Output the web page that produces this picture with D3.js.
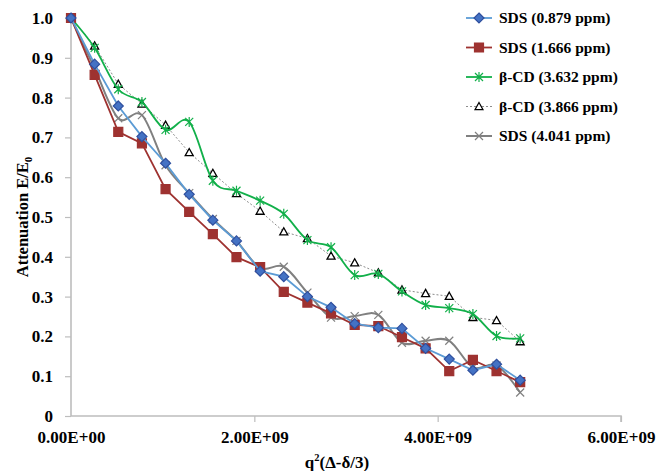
<!DOCTYPE html>
<html><head><meta charset="utf-8">
<script src="https://cdn.jsdelivr.net/npm/d3@7"></script>
<style>
html,body{margin:0;padding:0;background:#fff;}
svg text{font-family:"Liberation Serif","Times New Roman",serif !important;font-weight:bold;fill:#000;}
</style></head>
<body><svg id="c" width="657" height="471"></svg>
<script>
const xStep = 0.2579e9;
const xValues = [0,1,2,3,4,5,6,7,8,9,10,11,12,13,14,15,16,17,18,19].map(i => i * xStep);
const seriesNames = ["SDS (0.879 ppm)","SDS (1.666 ppm)","β-CD (3.632 ppm)","β-CD (3.866 ppm)","SDS (4.041 ppm)"];
const sds0879 = [1.0,0.884,0.779,0.702,0.635,0.557,0.492,0.440,0.364,0.350,0.300,0.273,0.232,0.222,0.220,0.170,0.143,0.115,0.130,0.090];
const sds1666 = [1.0,0.857,0.714,0.685,0.570,0.513,0.457,0.399,0.374,0.312,0.285,0.258,0.229,0.226,0.198,0.170,0.113,0.141,0.113,0.085];
const cd3632  = [1.0,0.925,0.821,0.789,0.719,0.739,0.591,0.566,0.541,0.508,0.442,0.424,0.354,0.357,0.313,0.279,0.271,0.256,0.201,0.195];
const cd3866  = [1.0,0.930,0.834,0.784,0.731,0.662,0.610,0.559,0.515,0.463,0.446,0.402,0.385,0.360,0.317,0.308,0.301,0.248,0.240,0.187];
const sds4041 = [1.0,0.873,0.748,0.756,0.630,0.560,0.495,0.440,0.372,0.375,0.310,0.247,0.251,0.254,0.184,0.189,0.189,0.122,0.127,0.059];
const xTicks = [0, 2e9, 4e9, 6e9];
const yTicks = [0,0.1,0.2,0.3,0.4,0.5,0.6,0.7,0.8,0.9,1.0];

const svg = d3.select("#c");
const x = d3.scaleLinear().domain([0,6e9]).range([71,621]);
const y = d3.scaleLinear().domain([0,1]).range([416,18]);

const fmtX = v => {
  if (v === 0) return "0.00E+00";
  const e = Math.floor(Math.log10(Math.abs(v)));
  const m = v / Math.pow(10,e);
  return m.toFixed(2) + "E+" + String(e).padStart(2,"0");
};
const fmtY = v => v === 0 ? "0" : v.toFixed(1);

// axes
const axisColor = "#bdbdbd";
const gy = svg.append("g").attr("transform","translate(71,0)")
  .call(d3.axisLeft(y).tickValues(yTicks).tickFormat(fmtY).tickSize(6).tickPadding(12));
const gx = svg.append("g").attr("transform","translate(0,416)")
  .call(d3.axisBottom(x).tickValues(xTicks).tickFormat(fmtX).tickSize(6).tickPadding(9));
[gx,gy].forEach(g=>{
  g.attr("font-family",null).attr("font-size",null);
  g.select(".domain").attr("stroke",axisColor).attr("stroke-width",1.6);
  g.selectAll(".tick line").attr("stroke",axisColor).attr("stroke-width",1.2);
  g.selectAll("text").attr("font-size",17).attr("fill","#000");
});
gy.select(".domain").attr("d","M0,18V416");
gx.select(".domain").attr("d","M71,0H621V6");
gx.selectAll(".tick").filter(d=>d===0).select("line").remove();

// axis titles
const xt = svg.append("text").attr("x",337).attr("y",468).attr("text-anchor","middle").attr("font-size",17);
xt.append("tspan").text("q");
xt.append("tspan").attr("font-size",10.5).attr("dy",-7).text("2");
xt.append("tspan").attr("dy",7).text("(Δ-δ/3)");
const yt = svg.append("text").attr("transform","translate(28,217) rotate(-90)").attr("text-anchor","middle").attr("font-size",16.5);
yt.append("tspan").text("Attenuation E/E");
yt.append("tspan").attr("font-size",11).attr("dy",4).text("0");

// marker symbols
function markerPath(type, s){
  const h = s/2;
  switch(type){
    case "diamond": return `M0,${-h-1}L${h+1},0L0,${h+1}L${-h-1},0Z`;
    case "square": return `M${-h},${-h}H${h}V${h}H${-h}Z`;
    case "triangle": return `M0,${-h}L${h},${h*0.8}L${-h},${h*0.8}Z`;
    case "star": return `M${-h},${-h}L${h},${h}M${-h},${h}L${h},${-h}M0,${-h-1}V${h+1}`;
    case "x": return `M${-h},${-h}L${h},${h}M${-h},${h}L${h},${-h}`;
  }
}

const series = [
  {name:seriesNames[0], vals:sds0879, line:"#5b9bd5", width:1.8, dash:null, curve:d3.curveLinear, marker:"diamond", mfill:"#4472c4", mstroke:"#2f4f9e", msize:8},
  {name:seriesNames[1], vals:sds1666, line:"#9e3230", width:1.8, dash:null, curve:d3.curveLinear, marker:"square", mfill:"#9e3230", mstroke:"#9e3230", msize:9},
  {name:seriesNames[2], vals:cd3632, line:"#12b04a", width:1.8, dash:null, curve:d3.curveCardinal.tension(0), marker:"star", mfill:"none", mstroke:"#12b04a", msize:8},
  {name:seriesNames[3], vals:cd3866, line:"#8c8c8c", width:1, dash:"2,2", curve:d3.curveLinear, marker:"triangle", mfill:"#fff", mstroke:"#000", msize:8},
  {name:seriesNames[4], vals:sds4041, line:"#808080", width:2, dash:null, curve:d3.curveCardinal.tension(0), marker:"x", mfill:"none", mstroke:"#808080", msize:8}
];

const drawOrder = [3,2,4,1,0];
drawOrder.forEach(k=>{
  const s = series[k];
  const pts = s.vals.map((v,i)=>[xValues[i], v]);
  svg.append("path").datum(pts)
    .attr("d", d3.line().x(d=>x(d[0])).y(d=>y(d[1])).curve(s.curve))
    .attr("fill","none").attr("stroke",s.line).attr("stroke-width",s.width)
    .attr("stroke-dasharray",s.dash);
  svg.append("g").selectAll("path").data(pts).join("path")
    .attr("transform",d=>`translate(${x(d[0])},${y(d[1])})`)
    .attr("d",markerPath(s.marker,s.msize))
    .attr("fill",s.mfill).attr("stroke",s.mstroke)
    .attr("stroke-width", s.marker==="triangle"?1.3:1.2);
});

// legend
const legY = [18,47.5,77,106.5,136];
series.forEach((s,i)=>{
  const g = svg.append("g").attr("transform",`translate(0,${legY[i]})`);
  g.append("line").attr("x1",466).attr("x2",492).attr("y1",0).attr("y2",0)
    .attr("stroke",s.line).attr("stroke-width",s.width).attr("stroke-dasharray",s.dash);
  g.append("path").attr("transform","translate(479,0)").attr("d",markerPath(s.marker,s.msize))
    .attr("fill",s.mfill).attr("stroke",s.mstroke).attr("stroke-width",1.2);
  g.append("text").attr("x",499).attr("y",5).attr("font-size",15.5).text(s.name);
});
</script></body></html>
